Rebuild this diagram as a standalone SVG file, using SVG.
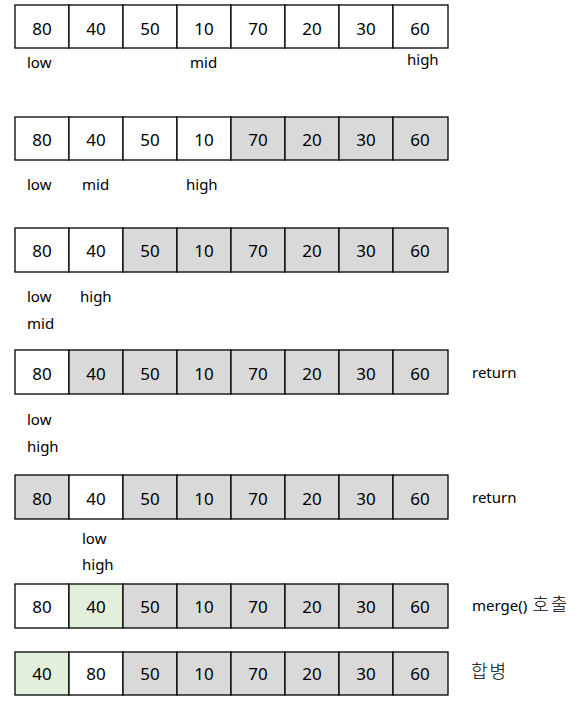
<svg xmlns="http://www.w3.org/2000/svg" width="583" height="706" viewBox="0 0 583 706">
<style>
rect{stroke:#000;stroke-width:1.3}
.w{fill:#fff}.g{fill:#d9d9d9}.n{fill:#e2efda}
text{font-family:"Noto Sans","Liberation Sans","Noto Sans CJK KR",sans-serif;fill:#000}
.v{font-size:17px;text-anchor:middle}
.l{font-size:15px}
.k{font-family:"Noto Sans CJK KR",sans-serif;font-size:18px;letter-spacing:2px;font-weight:300}
</style>
<rect width="583" height="706" fill="#fff" style="stroke:none"/>
<g id="row1" transform="translate(15,5)">
<rect class="w" x="0" y="0" width="54" height="43"/><rect class="w" x="54" y="0" width="54" height="43"/><rect class="w" x="108" y="0" width="54" height="43"/><rect class="w" x="162" y="0" width="54" height="43"/><rect class="w" x="216" y="0" width="54" height="43"/><rect class="w" x="270" y="0" width="54" height="43"/><rect class="w" x="324" y="0" width="54" height="43"/><rect class="w" x="378" y="0" width="55" height="43"/>
<text class="v" x="27" y="30">80</text><text class="v" x="81" y="30">40</text><text class="v" x="135" y="30">50</text><text class="v" x="189" y="30">10</text><text class="v" x="243" y="30">70</text><text class="v" x="297" y="30">20</text><text class="v" x="351" y="30">30</text><text class="v" x="405" y="30">60</text>
</g>
<g id="labels1"><text class="l" x="27" y="68">low</text><text class="l" x="190" y="68">mid</text><text class="l" x="407" y="65">high</text></g>

<g id="row2" transform="translate(15,117)">
<rect class="w" x="0" y="0" width="54" height="43"/><rect class="w" x="54" y="0" width="54" height="43"/><rect class="w" x="108" y="0" width="54" height="43"/><rect class="w" x="162" y="0" width="54" height="43"/><rect class="g" x="216" y="0" width="54" height="43"/><rect class="g" x="270" y="0" width="54" height="43"/><rect class="g" x="324" y="0" width="54" height="43"/><rect class="g" x="378" y="0" width="55" height="43"/>
<text class="v" x="27" y="29">80</text><text class="v" x="81" y="29">40</text><text class="v" x="135" y="29">50</text><text class="v" x="189" y="29">10</text><text class="v" x="243" y="29">70</text><text class="v" x="297" y="29">20</text><text class="v" x="351" y="29">30</text><text class="v" x="405" y="29">60</text>
</g>
<g id="labels2"><text class="l" x="27" y="190">low</text><text class="l" x="82" y="190">mid</text><text class="l" x="186" y="190">high</text></g>

<g id="row3" transform="translate(15,228)">
<rect class="w" x="0" y="0" width="54" height="44"/><rect class="w" x="54" y="0" width="54" height="44"/><rect class="g" x="108" y="0" width="54" height="44"/><rect class="g" x="162" y="0" width="54" height="44"/><rect class="g" x="216" y="0" width="54" height="44"/><rect class="g" x="270" y="0" width="54" height="44"/><rect class="g" x="324" y="0" width="54" height="44"/><rect class="g" x="378" y="0" width="55" height="44"/>
<text class="v" x="27" y="29">80</text><text class="v" x="81" y="29">40</text><text class="v" x="135" y="29">50</text><text class="v" x="189" y="29">10</text><text class="v" x="243" y="29">70</text><text class="v" x="297" y="29">20</text><text class="v" x="351" y="29">30</text><text class="v" x="405" y="29">60</text>
</g>
<g id="labels3"><text class="l" x="27" y="302">low</text><text class="l" x="80" y="302">high</text><text class="l" x="27" y="329">mid</text></g>

<g id="row4" transform="translate(15,350)">
<rect class="w" x="0" y="0" width="54" height="44"/><rect class="g" x="54" y="0" width="54" height="44"/><rect class="g" x="108" y="0" width="54" height="44"/><rect class="g" x="162" y="0" width="54" height="44"/><rect class="g" x="216" y="0" width="54" height="44"/><rect class="g" x="270" y="0" width="54" height="44"/><rect class="g" x="324" y="0" width="54" height="44"/><rect class="g" x="378" y="0" width="55" height="44"/>
<text class="v" x="27" y="30">80</text><text class="v" x="81" y="30">40</text><text class="v" x="135" y="30">50</text><text class="v" x="189" y="30">10</text><text class="v" x="243" y="30">70</text><text class="v" x="297" y="30">20</text><text class="v" x="351" y="30">30</text><text class="v" x="405" y="30">60</text>
</g>
<g id="labels4"><text class="l" x="27" y="425">low</text><text class="l" x="27" y="452">high</text><text class="l" x="472" y="378">return</text></g>

<g id="row5" transform="translate(15,475)">
<rect class="g" x="0" y="0" width="54" height="44"/><rect class="w" x="54" y="0" width="54" height="44"/><rect class="g" x="108" y="0" width="54" height="44"/><rect class="g" x="162" y="0" width="54" height="44"/><rect class="g" x="216" y="0" width="54" height="44"/><rect class="g" x="270" y="0" width="54" height="44"/><rect class="g" x="324" y="0" width="54" height="44"/><rect class="g" x="378" y="0" width="55" height="44"/>
<text class="v" x="27" y="30">80</text><text class="v" x="81" y="30">40</text><text class="v" x="135" y="30">50</text><text class="v" x="189" y="30">10</text><text class="v" x="243" y="30">70</text><text class="v" x="297" y="30">20</text><text class="v" x="351" y="30">30</text><text class="v" x="405" y="30">60</text>
</g>
<g id="labels5"><text class="l" x="82" y="544">low</text><text class="l" x="82" y="570">high</text><text class="l" x="472" y="503">return</text></g>

<g id="row6" transform="translate(15,584)">
<rect class="w" x="0" y="0" width="54" height="44"/><rect class="n" x="54" y="0" width="54" height="44"/><rect class="g" x="108" y="0" width="54" height="44"/><rect class="g" x="162" y="0" width="54" height="44"/><rect class="g" x="216" y="0" width="54" height="44"/><rect class="g" x="270" y="0" width="54" height="44"/><rect class="g" x="324" y="0" width="54" height="44"/><rect class="g" x="378" y="0" width="55" height="44"/>
<text class="v" x="27" y="29">80</text><text class="v" x="81" y="29">40</text><text class="v" x="135" y="29">50</text><text class="v" x="189" y="29">10</text><text class="v" x="243" y="29">70</text><text class="v" x="297" y="29">20</text><text class="v" x="351" y="29">30</text><text class="v" x="405" y="29">60</text>
</g>
<g id="labels6"><text class="l" x="472" y="611">merge()<tspan class="k" dx="5">호출</tspan></text></g>

<g id="row7" transform="translate(15,652)">
<rect class="n" x="0" y="0" width="54" height="43"/><rect class="w" x="54" y="0" width="54" height="43"/><rect class="g" x="108" y="0" width="54" height="43"/><rect class="g" x="162" y="0" width="54" height="43"/><rect class="g" x="216" y="0" width="54" height="43"/><rect class="g" x="270" y="0" width="54" height="43"/><rect class="g" x="324" y="0" width="54" height="43"/><rect class="g" x="378" y="0" width="55" height="43"/>
<text class="v" x="27" y="28">40</text><text class="v" x="81" y="28">80</text><text class="v" x="135" y="28">50</text><text class="v" x="189" y="28">10</text><text class="v" x="243" y="28">70</text><text class="v" x="297" y="28">20</text><text class="v" x="351" y="28">30</text><text class="v" x="405" y="28">60</text>
</g>
<g id="labels7"><text class="k" x="471" y="678">합병</text></g>
<g id="connectors"/>
</svg>
